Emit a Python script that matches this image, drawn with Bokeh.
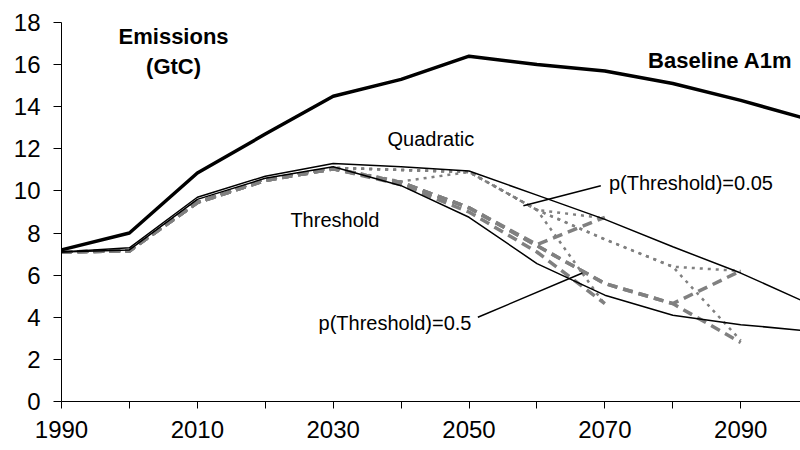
from bokeh.plotting import figure
from bokeh.models import Range1d, FixedTicker, Label
from bokeh.embed import file_html
from bokeh.resources import INLINE

years = [1990, 2000, 2010, 2020, 2030, 2040, 2050, 2060, 2070, 2080, 2090, 2100]
baseline = [7.2, 8.0, 10.85, 12.7, 14.5, 15.3, 16.4, 16.0, 15.7, 15.1, 14.3, 13.4]
quadratic = [7.1, 7.3, 9.7, 10.7, 11.3, 11.15, 10.95, 9.8, 8.65, 7.35, 6.1, 4.65]
threshold = [7.1, 7.2, 9.6, 10.6, 11.15, 10.25, 8.75, 6.55, 5.05, 4.1, 3.65, 3.35]

# hedging paths, p(Threshold)=0.5 (dashed)
d1 = [7.1, 7.15, 9.45, 10.5, 11.05, 10.4, 9.2, 7.4, 5.6, 4.65, 2.8]
d2 = [7.1, 7.15, 9.45, 10.5, 11.05, 10.4, 9.2, 7.4, 5.6, 4.65, 6.2]
d3 = [7.1, 7.15, 9.45, 10.5, 11.05, 10.4, 9.2, 7.45, 8.75]
d4 = [7.1, 7.15, 9.45, 10.5, 11.05, 10.3, 9.0, 7.1, 4.65]
# hedging paths, p(Threshold)=0.05 (dotted)
q1 = [7.1, 7.15, 9.45, 10.55, 11.1, 11.0, 10.9, 9.1, 7.7, 6.4, 6.2]
q2 = [7.1, 7.15, 9.45, 10.55, 11.1, 11.0, 10.9, 9.1, 7.7, 6.4, 2.9]
q3 = [7.1, 7.15, 9.45, 10.55, 11.1, 11.0, 10.9, 9.1, 4.6]
q4 = [7.1, 7.15, 9.45, 10.55, 11.1, 10.45, 10.9, 9.1, 8.7]

x_ticks = [1990, 2000, 2010, 2020, 2030, 2040, 2050, 2060, 2070, 2080, 2090]
x_labels = {1990: "1990", 2000: "", 2010: "2010", 2020: "", 2030: "2030", 2040: "",
            2050: "2050", 2060: "", 2070: "2070", 2080: "", 2090: "2090"}
y_ticks = [0, 2, 4, 6, 8, 10, 12, 14, 16, 18]

# leader lines for the probability labels
lead05_x = [2058.0, 2069.4]
lead05_y = [9.3, 10.25]
lead5_x = [2051.3, 2066.7]
lead5_y = [4.0, 6.1]

FONT = "Liberation Sans"

p = figure(width=800, height=450, output_backend="svg", toolbar_location=None,
           x_range=Range1d(1990, 2098.8), y_range=Range1d(0, 18),
           min_border_left=61, min_border_right=0, min_border_top=22, min_border_bottom=49)
p.outline_line_color = None
p.xgrid.grid_line_color = None
p.ygrid.grid_line_color = None
p.background_fill_color = "white"
p.border_fill_color = "white"

for ax in (p.xaxis[0], p.yaxis[0]):
    ax.axis_line_color = "black"
    ax.axis_line_width = 1
    ax.major_tick_line_color = "black"
    ax.major_tick_in = 0
    ax.minor_tick_line_color = None
    ax.major_label_text_font = FONT
    ax.major_label_text_font_size = "24px"
    ax.major_label_text_color = "black"

p.xaxis[0].ticker = FixedTicker(ticks=x_ticks)
p.xaxis[0].major_label_overrides = {k: v for k, v in x_labels.items()}
p.xaxis[0].major_tick_out = 7
p.xaxis[0].major_label_standoff = 12
p.yaxis[0].ticker = FixedTicker(ticks=y_ticks)
p.yaxis[0].major_tick_out = 8
p.yaxis[0].major_label_standoff = 13

gray = "#808080"
for s in (d1, d2, d3, d4):
    p.line(years[:len(s)], s, line_color=gray, line_width=3.5, line_dash="10 6")
for s in (q1, q2, q3, q4):
    p.line(years[:len(s)], s, line_color=gray, line_width=2.5, line_dash="3 5")

p.line(years, quadratic, line_color="black", line_width=1.5)
p.line(years, threshold, line_color="black", line_width=1.5)
p.line(years, baseline, line_color="black", line_width=3.5)

p.line(lead05_x, lead05_y, line_color="black", line_width=1.5)
p.line(lead5_x, lead5_y, line_color="black", line_width=1.5)

labels = [
    ("Emissions", 2006.5, 17.33, "center", "bold", 22),
    ("(GtC)", 2006.5, 15.9, "center", "bold", 22),
    ("Baseline A1m", 2097.6, 16.2, "right", "bold", 22),
    ("Quadratic", 2038.0, 12.45, "left", "normal", 20),
    ("Threshold", 2023.7, 8.6, "left", "normal", 20),
    ("p(Threshold)=0.05", 2070.6, 10.4, "left", "normal", 20),
    ("p(Threshold)=0.5", 2027.85, 3.75, "left", "normal", 20),
]
for txt, lx, ly, al, st, fs in labels:
    p.add_layout(Label(x=lx, y=ly, text=txt, text_align=al, text_baseline="middle",
                       text_font=FONT, text_font_style=st, text_font_size=f"{fs}px",
                       text_color="black"))

open("out.html", "w").write(file_html(p, INLINE))
